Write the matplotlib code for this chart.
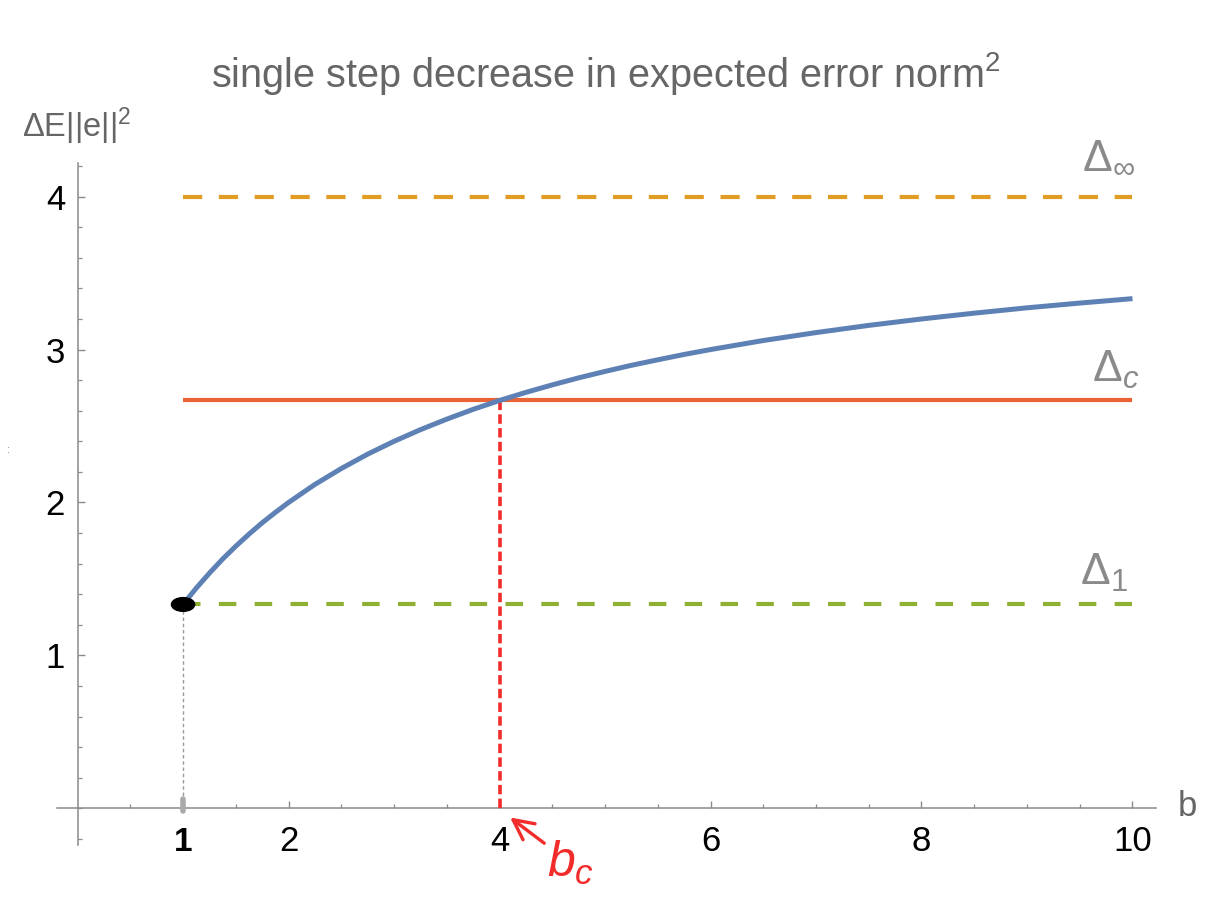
import numpy as np
import matplotlib
matplotlib.use("Agg")
import matplotlib.pyplot as plt
from matplotlib.patches import Ellipse

plt.rcParams['font.family'] = ['Liberation Sans', 'DejaVu Sans']
plt.rcParams['mathtext.fontset'] = 'custom'
plt.rcParams['mathtext.rm'] = 'Liberation Sans'
plt.rcParams['mathtext.it'] = 'Liberation Sans:italic'

# curve
b_vals = [1.0, 1.125, 1.25, 1.375, 1.5, 1.625, 1.75, 1.875, 2.0, 2.25, 2.5, 2.75,
          3.0, 3.25, 3.5, 3.75, 4.0, 4.25, 4.5, 4.75, 5.0, 5.25, 5.5, 5.75,
          6.0, 6.5, 7.0, 7.5, 8.0, 8.5, 9.0, 9.5, 10.0]
dE_vals = [1.333, 1.44, 1.538, 1.63, 1.714, 1.793, 1.867, 1.935, 2.0, 2.118,
           2.222, 2.316, 2.4, 2.476, 2.545, 2.609, 2.667, 2.72, 2.769, 2.815,
           2.857, 2.897, 2.933, 2.968, 3.0, 3.059, 3.111, 3.158, 3.2, 3.238,
           3.273, 3.304, 3.333]

# reference levels
b_range = [1.0, 10.0]
delta_inf = 4.0
delta_c = 2.667
delta_1 = 1.333
b_c = 4.0

x_major = [2, 4, 6, 8, 10]
y_major = [1, 2, 3, 4]

gray = '#8a8a8a'
txt_gray = '#666666'

fig = plt.figure(figsize=(12.19, 9.02), dpi=100)
ax = fig.add_axes([0.04676, 0.06319, 0.9013, 0.7561])
ax.set_xlim(-0.195, 10.22)
ax.set_ylim(-0.24, 4.22)

for s in ['top', 'right']:
    ax.spines[s].set_visible(False)
ax.spines['left'].set_position(('data', 0))
ax.spines['bottom'].set_position(('data', 0))
for s in ['left', 'bottom']:
    ax.spines[s].set_color(gray)
    ax.spines[s].set_linewidth(1.1)

ax.set_xticks(x_major)
ax.set_xticklabels([str(v) for v in x_major])
ax.set_xticks(np.arange(0.5, 10.01, 0.5), minor=True)
ax.set_yticks(y_major)
ax.set_yticklabels([str(v) for v in y_major])
ax.set_yticks(np.arange(-0.2, 4.21, 0.2), minor=True)
ax.tick_params(which='major', direction='in', length=5, width=1, color=gray,
               labelsize=25, labelcolor='black')
ax.tick_params(which='minor', direction='in', length=3, width=0.9, color=gray)
ax.tick_params(axis='x', which='major', pad=12)
ax.tick_params(axis='y', which='major', pad=9)

# horizontal reference lines
ax.plot(b_range, [delta_inf, delta_inf], color='#E19C24', lw=3, dashes=(4.6, 4.0),
        solid_capstyle='butt', dash_capstyle='butt')
ax.plot(b_range, [delta_1, delta_1], color='#8FB032', lw=3, dashes=(4.2, 4.4),
        dash_capstyle='butt')
ax.plot(b_range, [delta_c, delta_c], color='#EB6235', lw=3, solid_capstyle='butt')

# main curve
ax.plot(b_vals, dE_vals, color='#5E81B5', lw=3.6, solid_capstyle='butt',
        solid_joinstyle='round', zorder=4)

# vertical markers
ax.plot([b_c, b_c], [0, delta_c], color='#F22B2B', lw=2.6, dashes=(2.6, 1.2),
        dash_capstyle='butt', zorder=3)
ax.plot([b_range[0], b_range[0]], [0, delta_1], color='#999999', lw=1.0,
        dashes=(2.5, 2.0), zorder=3)
ax.plot([b_range[0], b_range[0]], [-0.015, 0.06], color='#aaaaaa', lw=4,
        solid_capstyle='round', zorder=3)
ax.add_patch(Ellipse((b_range[0], delta_1), 0.22, 0.09, color='black', zorder=5))

# title and axis labels
fig.text(606 / 1219, 1 - 87 / 902, r'single step decrease in expected error norm$^2$',
         ha='center', va='baseline', fontsize=28.5, color=txt_gray)
fig.text(22 / 1219, 1 - 137 / 902, r'$\Delta$E||e||$^2$', ha='left', va='baseline',
         fontsize=23.5, color=txt_gray)
fig.text(1178 / 1219, 1 - 806 / 902, 'b', ha='left', va='center',
         fontsize=25, color=txt_gray)
fig.text(8 / 1219, 1 - 450 / 902, ':', ha='center', va='center',
         fontsize=8, color='#5E81B5')

# hand-written annotations
ax.text(9.52, 4.12, r'$\Delta_\infty$', fontsize=32, color=gray, ha='left', va='bottom')
ax.text(9.62, 2.73, r'$\Delta_c$', fontsize=32, color=gray, ha='left', va='bottom')
ax.text(9.5, 1.40, r'$\Delta_1$', fontsize=32, color=gray, ha='left', va='bottom')
ax.text(b_range[0], -0.12, '1', fontsize=24, fontweight='bold', color='black',
        ha='center', va='top')
ax.annotate(r'$b_c$', xy=(b_c + 0.1, -0.06), xytext=(b_c + 0.45, -0.2),
            fontsize=36, color='#F22B2B', ha='left', va='top',
            arrowprops=dict(arrowstyle='->', color='#F22B2B', lw=2.4,
                            shrinkA=0, shrinkB=0))

fig.savefig('out.png', dpi=100)
